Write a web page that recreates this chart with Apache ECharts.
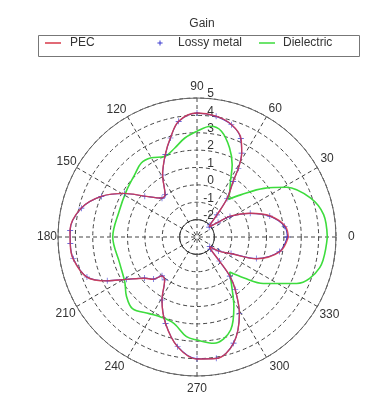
<!DOCTYPE html>
<html>
<head>
<meta charset="utf-8">
<script src="https://cdn.jsdelivr.net/npm/echarts@6/dist/echarts.min.js"></script>
<style>html,body{margin:0;padding:0;background:#fff;}#c{width:372px;height:400px;}</style>
</head>
<body>
<div id="c"></div>
<script>
// ---- data (angle in degrees, gain values) ----
var seriesNames = ['PEC', 'Lossy metal', 'Dielectric'];
var pecAngles = [0, 7, 16, 24, 32, 35, 39, 43, 48, 52, 57, 59, 62, 66, 73, 81, 90, 99, 105, 111, 119, 127, 132, 142, 149, 157, 166, 177, 183, 190, 200, 206, 211, 218, 224, 228, 233, 241, 250, 260, 270, 279, 289, 299, 306, 310, 313, 318, 323, 327, 334, 340, 350, 360];
var pecValues = [2.26, 2.12, 1.39, 0.37, -0.74, -1.5, -2.08, -1.96, -1.27, -0.17, 0.84, 1.64, 2.49, 3.22, 3.77, 4.04, 4.14, 3.75, 2.91, 2.09, 1.09, 0.06, 0.02, 0.82, 1.87, 2.99, 3.87, 4.32, 4.31, 4.24, 3.75, 2.76, 1.74, 0.85, 0.5, 0.02, 0.1, 1.16, 2.3, 3.42, 4.02, 4.08, 3.47, 2.04, 0.75, -0.05, -1.1, -1.95, -2.07, -1.5, -0.8, 0.65, 1.85, 2.26];
var lossyAngles = pecAngles;
var lossyValues = [2.2, 2.08, 1.36, 0.35, -0.76, -1.52, -2.1, -1.98, -1.29, -0.19, 0.82, 1.62, 2.47, 3.2, 3.76, 4.03, 4.13, 3.74, 2.9, 2.08, 1.08, 0.05, 0.01, 0.81, 1.86, 2.98, 3.86, 4.31, 4.3, 4.23, 3.74, 2.75, 1.73, 0.84, 0.49, 0.01, 0.09, 1.15, 2.29, 3.41, 4.01, 4.07, 3.46, 2.03, 0.74, -0.06, -1.11, -1.96, -2.08, -1.52, -0.82, 0.63, 1.82, 2.2];
var dielAngles = [0, 10, 19, 29, 36, 44, 50, 54, 59, 64, 70, 77, 83, 90, 97, 104, 112, 120, 127, 135, 147, 162, 180, 199, 212, 220, 228, 238, 246, 255, 264, 270, 279, 290, 298, 305, 313, 319, 325, 335, 346, 360];
var dielValues = [4.5, 4.4, 3.9, 2.9, 1.76, 0.49, -0.18, 0.2, 0.74, 1.62, 2.47, 3.25, 3.42, 3.09, 2.74, 2.28, 2.0, 2.26, 2.33, 2.07, 1.85, 1.72, 1.85, 1.7, 1.9, 2.3, 2.55, 2.2, 2.05, 2.15, 2.77, 2.93, 3.19, 2.68, 1.52, 0.49, -0.24, 0.6, 1.66, 3.33, 4.28, 4.5];
var angleTicks = [0, 30, 60, 90, 120, 150, 180, 210, 240, 270, 300, 330];
var radiusTicks = [-2, -1, 0, 1, 2, 3, 4, 5];
var radiusMin = -3, radiusMax = 5;

function pairs(angles, values) {
  return angles.map(function (a, i) { return [values[i], a]; });
}

var specks = 'M0,0h0.05v0.05h-0.05z M15.95,11.95h0.05v0.05h-0.05z ';
var plusIcon = 'path://' + specks + 'M7.5,3.4H8.5V5.5H10.6V6.5H8.5V8.6H7.5V6.5H5.4V5.5H7.5Z';
var lineIcon = 'path://' + specks + 'M0,5.2H16V6.8H0Z';
var markerPlus = 'path://M4.5,0H5.5V4.5H10V5.5H5.5V10H4.5V5.5H0V4.5H4.5Z';

var C = [197, 237], R = 139;
var gridDash = [4, 3];
var font = 'Liberation Sans, Arial, sans-serif';

// per-label padding so that angle labels sit centred on one ring outside the plot
var angleLabelPad = {0: 12, 30: 3, 60: 2, 90: 5, 120: 1, 150: 0, 180: 1, 210: 1, 240: 3, 270: 7, 300: 3, 330: 2};
var angleRich = {};
Object.keys(angleLabelPad).forEach(function (k) {
  angleRich['p' + k] = {padding: angleLabelPad[k], fontSize: 12, color: '#333', fontFamily: font};
});

function legendAt(name, left, icon, pad) {
  return {
    left: left, top: 37, padding: 0, itemGap: 0, itemWidth: 16, itemHeight: 12,
    data: [{name: name, icon: icon}],
    textStyle: {fontSize: 12, color: '#333', fontFamily: font, padding: [0, 0, 0, pad]}
  };
}

var chart = echarts.init(document.getElementById('c'), null, {renderer: 'canvas'});
chart.setOption({
  backgroundColor: '#fff',
  animation: false,
  title: {
    text: 'Gain', left: 197, top: 13, textAlign: 'center',
    textStyle: {fontSize: 12, fontWeight: 'normal', color: '#333', fontFamily: font}
  },
  graphic: [{
    type: 'rect', left: 36, top: 33, silent: true,
    shape: {x: 0, y: 0, width: 321, height: 21},
    style: {fill: 'none', stroke: '#777', lineWidth: 1}
  }],
  legend: [
    legendAt(seriesNames[0], 45, lineIcon, 4),
    legendAt(seriesNames[1], 152, plusIcon, 5),
    legendAt(seriesNames[2], 259, lineIcon, 3)
  ],
  polar: [
    {center: C, radius: [0, R]},
    {center: C, radius: [0, R / (radiusMax - radiusMin)]},
    {center: C, radius: [0, R]}
  ],
  angleAxis: [
    {
      polarIndex: 0, type: 'value', min: 0, max: 360, interval: 30,
      startAngle: 0, clockwise: false,
      axisLine: {show: true, lineStyle: {color: '#666', width: 1}},
      axisTick: {show: false},
      axisLabel: {show: true, margin: 0, fontSize: 12, color: '#333', fontFamily: font,
        rich: angleRich,
        formatter: function (v) { return angleTicks.indexOf(v) >= 0 ? '{p' + v + '|' + v + '}' : ''; }},
      splitLine: {show: true, lineStyle: {color: '#444', width: 1, type: gridDash}},
      z: 1
    },
    {
      polarIndex: 1, type: 'value', min: 0, max: 360, startAngle: 0,
      axisLine: {show: true, lineStyle: {color: '#333', width: 1}},
      axisTick: {show: false}, axisLabel: {show: false}, splitLine: {show: false}
    },
    {
      polarIndex: 2, type: 'value', min: 0, max: 360, startAngle: 90,
      axisLine: {show: false}, axisTick: {show: false}, axisLabel: {show: false}, splitLine: {show: false}
    }
  ],
  radiusAxis: [
    {
      polarIndex: 0, type: 'value', min: radiusMin, max: radiusMax, interval: 1,
      axisLine: {show: false}, axisTick: {show: false}, axisLabel: {show: false},
      splitLine: {show: true, lineStyle: {color: '#444', width: 1, type: gridDash}}
    },
    {
      polarIndex: 1, type: 'value', min: 0, max: 1,
      axisLine: {show: false}, axisTick: {show: false}, axisLabel: {show: false}, splitLine: {show: false}
    },
    {
      polarIndex: 2, type: 'value', min: radiusMin, max: radiusMax, interval: 1,
      axisLine: {show: false}, axisTick: {show: false}, splitLine: {show: false},
      axisLabel: {show: true, margin: -17, align: 'right', verticalAlign: 'middle',
        fontSize: 12, color: '#333', fontFamily: font,
        rich: {r: {padding: [0, 0, 8, 0], fontSize: 12, color: '#333', fontFamily: font}},
        formatter: function (v) { return radiusTicks.indexOf(v) >= 0 ? '{r|' + v + '}' : ''; }}
    }
  ],
  series: [
    {
      name: seriesNames[2], type: 'line', coordinateSystem: 'polar', polarIndex: 0,
      data: pairs(dielAngles, dielValues), smooth: 0.35, symbol: 'none',
      lineStyle: {color: '#3ddc3d', width: 1.6}, itemStyle: {color: '#3ddc3d'}, z: 3
    },
    {
      name: seriesNames[1], type: 'line', coordinateSystem: 'polar', polarIndex: 0,
      data: pairs(lossyAngles, lossyValues), smooth: 0.35,
      symbol: markerPlus, symbolSize: 6, showSymbol: true,
      lineStyle: {color: '#3a3ad0', width: 1.2}, itemStyle: {color: '#3a3ad0'}, z: 4
    },
    {
      name: seriesNames[0], type: 'line', coordinateSystem: 'polar', polarIndex: 0,
      data: pairs(pecAngles, pecValues), smooth: 0.35, symbol: 'none',
      lineStyle: {color: '#d83a4a', width: 1.4, opacity: 0.85}, itemStyle: {color: '#d83a4a'}, z: 5
    }
  ]
});
</script>
</body>
</html>
